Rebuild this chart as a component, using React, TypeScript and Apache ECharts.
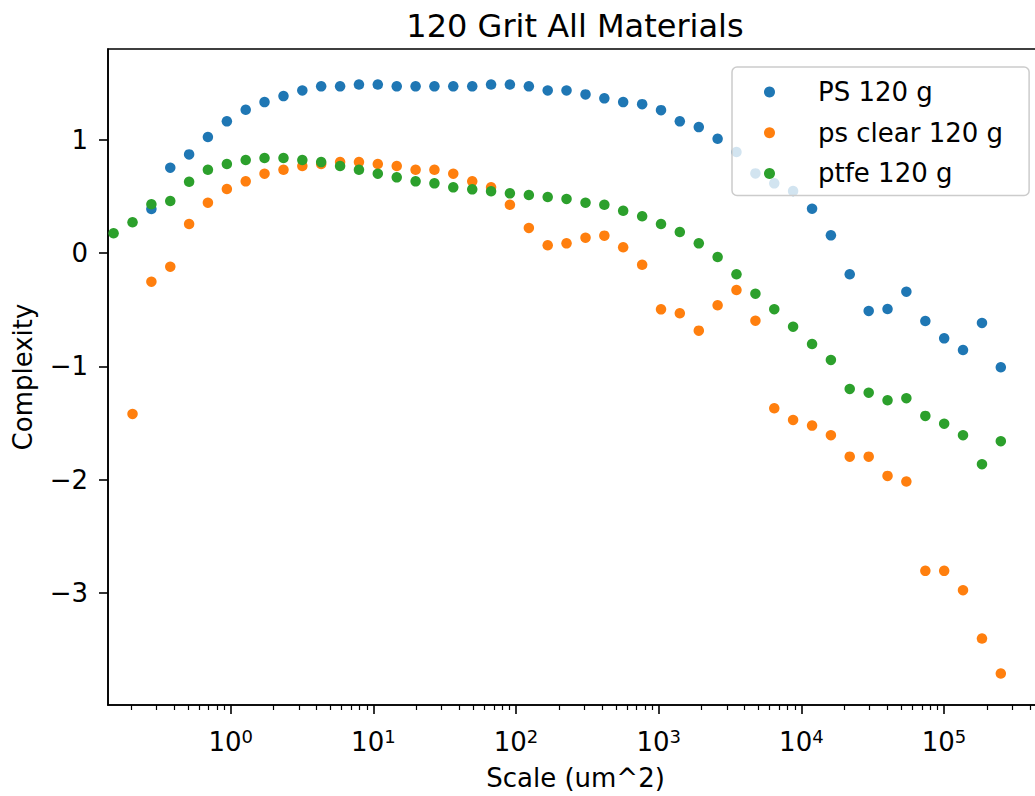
import React, { useEffect, useRef } from "react";
import * as echarts from "echarts";

const FONT = "DejaVu Sans";

// Scale (um^2) of every measurement step
const scales = [
  0.151, 0.205, 0.278, 0.377, 0.511, 0.692, 0.94, 1.274, 1.726, 2.344, 3.177, 4.306,
  5.845, 7.925, 10.74, 14.58, 19.77, 26.79, 36.31, 49.32, 66.83, 90.57, 123.0, 166.7,
  225.9, 306.9, 415.9, 563.6, 765.6, 1038, 1406, 1910, 2588, 3508, 4764, 6457,
  8750, 11885, 16106, 21827, 29648, 40179, 54450, 73961, 100230, 135831, 184502, 250035,
];

const psValues: (number | null)[] = [
  null, null, 0.39, 0.755, 0.873, 1.026, 1.165, 1.267, 1.335, 1.388, 1.438, 1.474,
  1.474, 1.49, 1.49, 1.474, 1.474, 1.474, 1.474, 1.474, 1.49, 1.49, 1.474, 1.438,
  1.438, 1.403, 1.368, 1.335, 1.317, 1.264, 1.165, 1.114, 1.011, 0.894, 0.705, 0.617,
  0.549, 0.393, 0.158, -0.186, -0.51, -0.493, -0.34, -0.599, -0.752, -0.855, -0.616, -1.008,
];

const psClearValues: (number | null)[] = [
  null, -1.42, -0.252, -0.119, 0.258, 0.446, 0.567, 0.635, 0.702, 0.737, 0.77, 0.788,
  0.805, 0.805, 0.788, 0.77, 0.737, 0.737, 0.702, 0.635, 0.582, 0.428, 0.223, 0.07,
  0.087, 0.137, 0.155, 0.052, -0.102, -0.496, -0.531, -0.684, -0.46, -0.325, -0.596, -1.37,
  -1.473, -1.523, -1.608, -1.797, -1.797, -1.967, -2.017, -2.806, -2.806, -2.977, -3.404, -3.713,
];

const ptfeValues: (number | null)[] = [
  0.176, 0.273, 0.432, 0.461, 0.631, 0.737, 0.788, 0.823, 0.841, 0.841, 0.823, 0.805,
  0.77, 0.737, 0.702, 0.67, 0.635, 0.617, 0.582, 0.564, 0.547, 0.529, 0.514, 0.496,
  0.479, 0.446, 0.428, 0.375, 0.326, 0.258, 0.187, 0.087, -0.034, -0.186, -0.358, -0.495,
  -0.649, -0.802, -0.943, -1.199, -1.232, -1.299, -1.281, -1.437, -1.506, -1.608, -1.864, -1.661,
];

const seriesNames = ["PS 120 g", "ps clear 120 g", "ptfe 120 g"];
const seriesColors = ["#1f77b4", "#ff7f0e", "#2ca02c"];
const seriesValues = [psValues, psClearValues, ptfeValues];

const xMajorTicks = [1, 10, 100, 1000, 10000, 100000];
const minorDecades = [0.1, 1, 10, 100, 1000, 10000, 100000];
const minorMultipliers = [2, 3, 4, 5, 6, 7, 8, 9];
const yTicks = [-3, -2, -1, 0, 1];

const xMin = 0.138;
const xMax = 494000;
const yMin = -3.991;
const yMax = 1.804;

function toPairs(values: (number | null)[]) {
  const out: [number, number][] = [];
  values.forEach((v, i) => {
    if (v !== null) out.push([scales[i], v]);
  });
  return out;
}

export default function App() {
  const ref = useRef<HTMLDivElement>(null);

  useEffect(() => {
    if (!ref.current) return;
    const chart = echarts.init(ref.current, undefined, { renderer: "svg" });

    const minorTicks: number[] = [];
    minorDecades.forEach((d) =>
      minorMultipliers.forEach((m) => {
        const v = Number((d * m).toPrecision(6));
        if (v >= xMin && v <= xMax) minorTicks.push(v);
      })
    );

    const black = "#000000";
    const option: any = {
      animation: false,
      backgroundColor: "#ffffff",
      textStyle: { fontFamily: FONT },
      title: {
        text: "120 Grit All Materials",
        left: 575,
        top: 10,
        textAlign: "center",
        padding: 0,
        textStyle: { fontSize: 32, fontWeight: "normal", color: black, fontFamily: FONT },
      },
      legend: {
        show: true,
        orient: "vertical",
        left: 732,
        top: 67,
        padding: [12, 26, 9, 32],
        itemGap: 14.7,
        itemWidth: 11,
        itemHeight: 11,
        icon: "circle",
        backgroundColor: "rgba(255,255,255,0.8)",
        borderColor: "#cccccc",
        borderWidth: 1.5,
        borderRadius: 5,
        selectedMode: false,
        data: seriesNames,
        textStyle: {
          fontSize: 26,
          color: black,
          fontFamily: FONT,
          lineHeight: 26,
          padding: [0, 0, 0, 38],
        },
      },
      grid: {
        left: 108,
        top: 49,
        width: 935,
        height: 656,
        show: true,
        borderColor: black,
        borderWidth: 1.6,
        backgroundColor: "transparent",
        containLabel: false,
        outerBoundsMode: "none",
      },
      xAxis: [
        {
          type: "log",
          logBase: 10,
          min: xMin,
          max: xMax,
          position: "bottom",
          name: "Scale (um^2)",
          nameLocation: "middle",
          nameGap: 60,
          nameMoveOverlap: false,
          nameTextStyle: { fontSize: 26, color: black, fontFamily: FONT },
          axisLine: { show: true, onZero: false, lineStyle: { color: black, width: 1.6 } },
          axisTick: {
            show: true,
            inside: false,
            length: 9,
            lineStyle: { color: black, width: 1.6 },
            customValues: xMajorTicks,
          },
          axisLabel: {
            show: true,
            margin: 22,
            customValues: xMajorTicks,
            formatter: (v: number) => `{b|10}{s|${Math.round(Math.log10(v))}}`,
            rich: {
              b: { fontSize: 26, fontFamily: FONT, color: black, lineHeight: 30 },
              s: { fontSize: 18, fontFamily: FONT, color: black, lineHeight: 18, verticalAlign: "top" },
            },
          },
          splitLine: { show: false },
          minorTick: { show: false },
          minorSplitLine: { show: false },
        },
        {
          type: "log",
          logBase: 10,
          min: xMin,
          max: xMax,
          position: "bottom",
          gridIndex: 0,
          axisLine: { show: false, onZero: false },
          axisTick: {
            show: true,
            inside: false,
            length: 5,
            lineStyle: { color: black, width: 1.2 },
            customValues: minorTicks,
          },
          axisLabel: { show: false },
          splitLine: { show: false },
        },
      ],
      yAxis: {
        type: "value",
        min: yMin,
        max: yMax,
        name: "Complexity",
        nameLocation: "middle",
        nameGap: 72,
        nameMoveOverlap: false,
        nameTextStyle: { fontSize: 26, color: black, fontFamily: FONT },
        axisLine: { show: true, onZero: false, lineStyle: { color: black, width: 1.6 } },
        axisTick: {
          show: true,
          inside: false,
          length: 9,
          lineStyle: { color: black, width: 1.6 },
          customValues: yTicks,
        },
        axisLabel: {
          show: true,
          margin: 20,
          customValues: yTicks,
          fontSize: 26,
          fontFamily: FONT,
          color: black,
          formatter: (v: number) => (v < 0 ? "\u2212" + Math.abs(v) : String(v)),
        },
        splitLine: { show: false },
      },
      series: seriesNames.map((name, k) => ({
        name,
        type: "scatter",
        xAxisIndex: 0,
        yAxisIndex: 0,
        symbol: "circle",
        symbolSize: 10.5,
        itemStyle: { color: seriesColors[k], opacity: 1 },
        emphasis: { disabled: true },
        data: toPairs(seriesValues[k]),
      })),
    };

    chart.setOption(option);
    return () => chart.dispose();
  }, []);

  return (
    <div
      ref={ref}
      style={{ position: "fixed", left: 0, top: 0, width: 1035, height: 796, background: "#fff" }}
    />
  );
}
